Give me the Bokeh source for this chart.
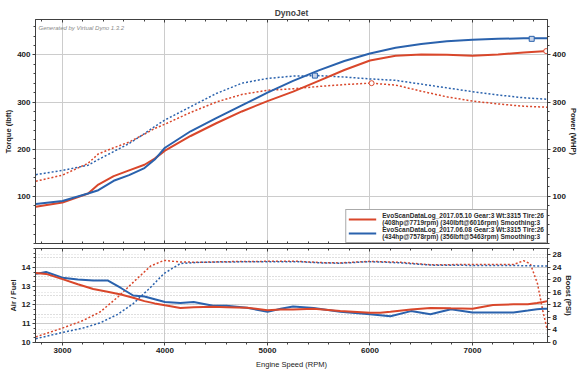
from bokeh.plotting import figure
from bokeh.models import (Range1d, LinearAxis, FixedTicker, Legend, LegendItem,
                          Label, Grid)
from bokeh.layouts import column
from bokeh.embed import file_html
from bokeh.resources import INLINE

# ---------------- data ----------------
title_text = "DynoJet"
watermark = "Generated by Virtual Dyno 1.3.2"
legend_labels = [
    "EvoScanDataLog_2017.05.10 Gear:3 Wt:3315 Tire:26\n(408hp@7719rpm) (340lbft@6016rpm) Smoothing:3",
    "EvoScanDataLog_2017.06.08 Gear:3 Wt:3315 Tire:26\n(434hp@7578rpm) (356lbft@5463rpm) Smoothing:3",
]
x_ticks = [3000, 4000, 5000, 6000, 7000]
torque_ticks = [100, 200, 300, 400]
afr_ticks = [10, 11, 12, 13, 14]
boost_ticks = [0, 4, 8, 12, 16, 20, 24, 28]

rpm_top = [2740, 3000, 3250, 3350, 3500, 3650, 3800, 3900, 4000, 4250, 4500, 4750,
           5000, 5250, 5500, 5750, 6000, 6250, 6500, 6750, 7000, 7250, 7500, 7730]
hp_blue = [84, 90, 106, 113, 133, 145, 160, 178, 203, 238, 266, 293,
           320, 345, 367, 387, 403, 415, 423, 429, 432, 434, 435, 435]
hp_red = [78, 87, 106, 125, 143, 155, 167, 180, 197, 228, 255, 280,
          302, 322, 345, 368, 388, 398, 401, 400, 398, 401, 405, 408]
tq_blue = [146, 155, 166, 178, 195, 212, 233, 248, 262, 290, 318, 340,
           350, 355, 356, 353, 349, 346, 338, 330, 322, 315, 309, 306]
tq_red = [132, 145, 170, 190, 203, 215, 232, 244, 253, 278, 300, 316,
          325, 328, 333, 337, 340, 336, 323, 311, 302, 296, 291, 289]

peak_hp_blue = ([7578], [434])
peak_tq_blue = ([5463], [356])
peak_hp_red = ([7719], [408])
peak_tq_red = ([6016], [340])

rpm_afr = [2740, 2840, 3000, 3150, 3300, 3440, 3570, 3690, 3800, 3900, 4000, 4150,
           4280, 4470, 4600, 4800, 5000, 5130, 5250, 5450, 5710, 6000, 6100, 6200,
           6400, 6590, 6790, 7000, 7200, 7400, 7540, 7630, 7690, 7730]
afr_blue = [13.65, 13.75, 13.45, 13.35, 13.3, 13.3, 12.9, 12.5, 12.45, 12.3, 12.15, 12.1,
            12.15, 11.95, 11.95, 11.85, 11.63, 11.8, 11.92, 11.84, 11.63, 11.5, 11.45, 11.4,
            11.67, 11.5, 11.77, 11.6, 11.6, 11.6, 11.7, 11.77, 11.8, 11.8]
afr_red = [13.7, 13.65, 13.37, 13.1, 12.85, 12.7, 12.55, 12.38, 12.2, 12.08, 11.98, 11.84,
           11.88, 11.9, 11.88, 11.85, 11.72, 11.75, 11.75, 11.8, 11.67, 11.58, 11.58, 11.63,
           11.75, 11.84, 11.82, 11.8, 12.0, 12.03, 12.03, 12.1, 12.15, 12.2]

rpm_boost = [2740, 3000, 3200, 3370, 3540, 3690, 3860, 3990, 4150, 4350, 4600, 5000,
             5300, 5520, 5710, 6000, 6300, 6590, 7000, 7400, 7500, 7565, 7635, 7685, 7730]
boost_red = [1.8, 4.6, 7.0, 9.8, 14.5, 19.2, 24.4, 26.2, 25.7, 25.6, 25.8, 25.9,
             25.9, 25.5, 25.4, 25.9, 25.6, 24.8, 24.9, 24.9, 26.1, 25.1, 18.7, 10.3, 4.0]
boost_blue = [1.2, 3.2, 4.6, 6.3, 9.0, 12.4, 17.6, 22.0, 25.2, 25.6, 25.7, 25.8,
              25.8, 25.4, 25.3, 25.8, 25.4, 24.7, 24.6, 24.6, 24.5, 24.5, 24.4, 24.4, 24.4]

# ---------------- style ----------------
RED = "#d9472b"
BLUE = "#2a62ad"
FONT = "Liberation Sans"
AXC = "#404040"
GRID = "#cccccc"
MINOR_X = list(range(2800, 7800, 200))


def style_axis(ax):
    ax.axis_line_color = AXC
    ax.major_tick_line_color = AXC
    ax.minor_tick_line_color = AXC
    ax.major_tick_in, ax.major_tick_out = 0, 3
    ax.minor_tick_in, ax.minor_tick_out = 0, 2
    ax.major_label_text_font = FONT
    ax.major_label_text_font_style = "bold"
    ax.major_label_text_color = "#222222"
    ax.major_label_text_font_size = "8px"
    ax.major_label_standoff = 2
    ax.axis_label_text_font = FONT
    ax.axis_label_text_font_size = "7.5px"
    ax.axis_label_text_font_style = "bold"
    ax.axis_label_text_color = "#222222"
    ax.axis_label_standoff = 1


def tick_only_axis():
    ax = LinearAxis(ticker=FixedTicker(ticks=x_ticks, minor_ticks=MINOR_X))
    ax.axis_line_color = AXC
    ax.major_tick_line_color = AXC
    ax.minor_tick_line_color = AXC
    ax.major_tick_in, ax.major_tick_out = 3, 0
    ax.minor_tick_in, ax.minor_tick_out = 2, 0
    ax.major_label_text_color = None
    ax.major_label_text_font_size = "1px"
    ax.major_label_standoff = 0
    return ax


xr = Range1d(2737, 7732)

# ---------------- top panel ----------------
p1 = figure(width=580, height=245, output_backend="svg", toolbar_location=None,
            x_range=xr, y_range=Range1d(0, 475),
            min_border_left=35, min_border_right=33, min_border_top=19, min_border_bottom=2)
p1.extra_y_ranges = {"power": Range1d(0, 475)}
p1.title.text = title_text
p1.title.align = "center"
p1.title.text_font = FONT
p1.title.text_font_size = "8.5px"
p1.title.text_font_style = "bold"
p1.title.standoff = 3
p1.outline_line_color = AXC

p1.xaxis.visible = False
p1.xaxis.ticker = FixedTicker(ticks=x_ticks, minor_ticks=MINOR_X)
p1.add_layout(tick_only_axis(), "above")
p1.add_layout(tick_only_axis(), "below")
p1.yaxis.ticker = FixedTicker(ticks=torque_ticks, minor_ticks=list(range(0, 480, 20)))
p1.yaxis.axis_label = "Torque (lbft)"
style_axis(p1.yaxis[0])

ax_pow = LinearAxis(y_range_name="power", axis_label="Power (WHP)",
                    ticker=FixedTicker(ticks=torque_ticks, minor_ticks=list(range(0, 480, 20))))
style_axis(ax_pow)
ax_pow.axis_label_standoff = 0
p1.add_layout(ax_pow, "right")

p1.xgrid.grid_line_color = GRID
p1.ygrid.grid_line_color = GRID

r_tq_red = p1.line(rpm_top, tq_red, color=RED, line_width=1.5, line_dash="2 2")
r_tq_blue = p1.line(rpm_top, tq_blue, color=BLUE, line_width=1.5, line_dash="2 2")
r_hp_red = p1.line(rpm_top, hp_red, color=RED, line_width=2, y_range_name="power")
r_hp_blue = p1.line(rpm_top, hp_blue, color=BLUE, line_width=2, y_range_name="power")
p1.scatter(*peak_hp_blue, marker="square", size=5, line_color=BLUE, fill_color="#c8d4e8",
           y_range_name="power")
p1.scatter(*peak_tq_blue, marker="square", size=5, line_color=BLUE, fill_color="#c8d4e8")
p1.scatter(*peak_hp_red, marker="circle", size=5, line_color=RED, fill_color="white",
           y_range_name="power")
p1.scatter(*peak_tq_red, marker="circle", size=5, line_color=RED, fill_color="white")

legend = Legend(items=[LegendItem(label=legend_labels[0], renderers=[r_hp_red]),
                       LegendItem(label=legend_labels[1], renderers=[r_hp_blue])],
                location="bottom_right", margin=0, padding=2, spacing=0,
                glyph_width=28, glyph_height=14, label_standoff=6,
                label_text_font=FONT, label_text_font_size="6.5px",
                label_text_font_style="bold", label_text_color="#2a2a2a",
                label_text_line_height=1.0,
                border_line_color="#555555", background_fill_alpha=1.0)
p1.add_layout(legend)

p1.add_layout(Label(x=3, y=219, x_units="screen", y_units="screen", text=watermark,
                    text_font=FONT, text_font_size="6px", text_font_style="italic",
                    text_color="#8a8a8a", text_baseline="top"))

# ---------------- bottom panel ----------------
p2 = figure(width=580, height=126, output_backend="svg", toolbar_location=None,
            x_range=xr, y_range=Range1d(10, 15),
            min_border_left=35, min_border_right=33, min_border_top=3, min_border_bottom=28)
p2.extra_y_ranges = {"boost": Range1d(0, 30)}
p2.outline_line_color = AXC

p2.xaxis.ticker = FixedTicker(ticks=x_ticks, minor_ticks=MINOR_X)
p2.xaxis.axis_label = "Engine Speed (RPM)"
style_axis(p2.xaxis[0])
p2.xaxis.axis_label_text_font_style = "normal"
p2.xaxis.axis_label_standoff = 4
p2.add_layout(tick_only_axis(), "above")
p2.yaxis.ticker = FixedTicker(ticks=afr_ticks, minor_ticks=[10 + 0.25 * i for i in range(21)])
p2.yaxis.axis_label = "Air / Fuel"
style_axis(p2.yaxis[0])

ax_boost = LinearAxis(y_range_name="boost", axis_label="Boost (PSI)",
                      ticker=FixedTicker(ticks=boost_ticks, minor_ticks=list(range(0, 31, 2))))
style_axis(ax_boost)
ax_boost.axis_label_standoff = 0
p2.add_layout(ax_boost, "right")

p2.xgrid.grid_line_color = GRID
p2.ygrid.grid_line_color = GRID
p2.add_layout(Grid(dimension=1, ticker=FixedTicker(ticks=[10.5, 11.5, 12.5, 13.5, 14.5]),
                   grid_line_color="#bdbdbd", grid_line_dash="1 2"))
p2.add_layout(Grid(dimension=1, y_range_name="boost", ticker=FixedTicker(ticks=boost_ticks[1:]),
                   grid_line_color="#d6d6d6", grid_line_dash="1 2"))

p2.line(rpm_boost, boost_red, color=RED, line_width=1.5, line_dash="2 2", y_range_name="boost")
p2.line(rpm_boost, boost_blue, color=BLUE, line_width=1.5, line_dash="2 2", y_range_name="boost")
p2.line(rpm_afr, afr_blue, color=BLUE, line_width=2)
p2.line(rpm_afr, afr_red, color=RED, line_width=2)

layout = column(p1, p2, spacing=0)
open("out.html", "w").write(file_html(layout, INLINE))
